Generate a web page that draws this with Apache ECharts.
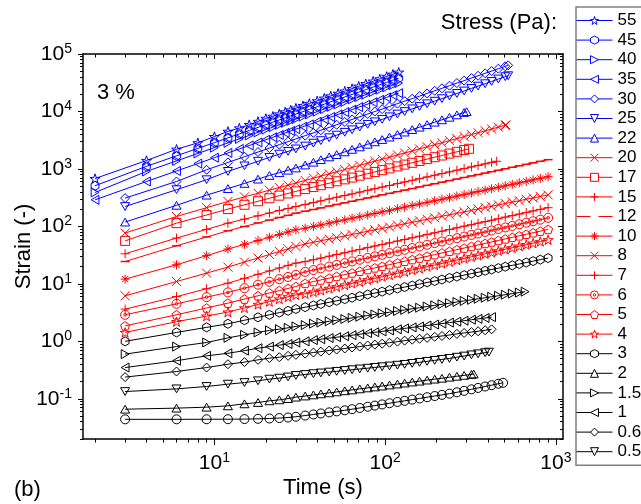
<!DOCTYPE html>
<html><head><meta charset="utf-8">
<script src="https://cdn.jsdelivr.net/npm/echarts@6.0.0/dist/echarts.min.js"></script>
<style>html,body{margin:0;padding:0;background:#fff}#c{width:641px;height:504px}</style>
</head><body><div id="c"></div>
<script>
// time grids (s)
const T2 = [2,4,6,8,10,12,14,16,18,20,22,24,26,28,30,33,36,40,44,48,53,58,64,70,77,85,93,102,111,120];
const G = [3,6,9,12,15,18,21,24,27,30,34,38,42,47,52,58,64,71,79,87,96,106,118,130,144,159,176,195,215,238,263,290,320,350,385,420,460,505,555,610,670,735,810,900];

// strain values (-) per stress (Pa)
const s55 = [680,1400,2200,2850,3650,4500,5150,5900,6700,7550,8240,9020,9810,10600,11400,12600,13800,15300,17000,18600,20600,22600,25000,27500,30300,33600,36900,40700,44400,48100];
const s45 = [510,1110,1690,2280,2870,3470,4070,4680,5290,5900,6520,7130,7750,8380,9000,9940,10900,12100,13400,14700,16300,17900,19800,21700,24000,26600,29200,32100,35100,38000];
const s40 = [390,906,1380,1860,2350,2840,3330,3830,4330,4830,5330,5840,6350,6860,7370,8140,8910,9930,11000,12000,13300,14600,16200,17800,19600,21800,23900,26300,28700,31100];
const s35 = [290,605,922,1240,1570,1900,2230,2560,2890,3220,3560,3900,4240,4580,4920,5430,5950,6630,7330,8020,8890,9760,10800,11900,13100,14500,16000,17600,19200,20800];
const s30 = [311,605,968,1297,1632,1969,2309,2649,2990,3330,3790,4250,4710,5290,5870,6560,7270,8090,9040,9980,11000,12200,13700,15100,16700,18500,20600,22900,25300,28100,31200,34400,38100,41800,46100,50400,55500,61000,63400];
const s25 = [222,435,649,906,1130,1360,1590,1810,2020,2230,2500,2810,3110,3490,3880,4340,4800,5340,5970,6600,7290,8070,9020,9970,11100,12200,13600,15100,16700,18600,20600,22700,25200,27600,30400,33300,36700,40300,41900];
const s22 = [119,233,350,455,560,665,770,860,950,1040,1170,1310,1450,1620,1780,1980,2190,2420,2690,2960,3250,3580,3980,4380,4840,5330,5900,6510,7160,7930,8730,9600,9930];
const s20 = [76.6,149,212,272,326,377,427,475,522,569,630,692,750,822,893,977,1059,1153,1259,1365,1476,1600,1750,1892,2056,2234,2432,2642,2858,3112,3373,3656,3963,4266,4613,4955,5346,5754,5810];
const s17 = [56,114,158,200,238,274,309,343,375,407,446,484,521,565,610,659,708,764,826,887,953,1023,1107,1189,1279,1377,1483,1600,1714,1849,1986,2133,2239];
const s15 = [33.4,62.7,88.9,114,134,153,171,189,205,222,241,260,278,300,321,345,368,395,425,453,483,516,556,593,634,678,726,778,830,889,951,1014,1084,1151,1225,1300,1361];
const s12 = [24.5,46,65.5,84,99.7,115,129,143,156,170,184,197,210,226,241,257,274,293,313,333,354,376,403,428,456,486,518,553,588,627,667,710,756,799,848,896,949,1006,1068,1134,1203,1275,1357,1450];
const s10 = [12.1,21.5,31.0,40.4,48.8,56.8,64.8,72.4,80.0,87.5,93.0,99.8,106,114,122,130,139,148,158,168,179,190,204,217,231,246,262,280,297,317,338,359,382,404,429,453,480,509,540,573,609,645,686,734];
const s8 = [6.2,11,15.4,19.6,24.0,28.2,32.5,36.6,40.6,44.8,49.5,53.0,56.3,60.2,64.0,68.3,72.5,77.1,82.3,87.2,92.4,98.1,105,111,118,125,133,141,150,159,169,179,190,201,213,224,237,250,265,280,297,313,332,354];
const s7 = [3.64,6.0,8.23,10.3,12.5,14.7,16.8,18.9,21.0,23.0,24.4,26.3,28.1,30.3,32.4,34.8,37.1,39.7,42.7,45.5,48.5,51.8,55.6,59.2,63.4,67.6,72.4,77.4,82.5,88.3,94.4,101,107,114,121,128,136,145,154,164,175,186,198,212];
const s6 = [2.9,4.5,5.88,7.1,8.43,9.70,10.9,12.1,13.2,14.4,16.2,17.4,18.6,20.0,21.4,23.0,24.6,26.3,28.3,30.1,32.1,34.3,36.8,39.2,42.0,44.8,47.9,51.3,54.6,58.5,62.5,66.6,71.1,75.4,80.3,85.0,90.3,96.0,102,109,116,123,131,141];
const s5 = [1.86,2.9,3.81,4.63,5.45,6.21,6.95,7.65,8.33,9.0,10.2,11.0,11.7,12.6,13.5,14.5,15.5,16.6,17.8,19.0,20.2,21.6,23.2,24.8,26.5,28.2,30.2,32.3,34.5,36.9,39.4,42.0,44.8,47.6,50.6,53.6,57.0,60.6,64.5,68.6,73.0,77.6,82.8,88.7];
const s4 = [1.43,2.2,2.75,3.23,3.82,4.39,4.93,5.45,5.96,6.45,6.73,7.25,7.74,8.34,8.92,9.58,10.2,10.9,11.8,12.5,13.4,14.3,15.3,16.3,17.5,18.6,20.0,21.3,22.7,24.3,26.0,27.7,29.6,31.4,33.4,35.4,37.6,40.0,42.5,45.3,48.2,51.2,54.6,58.5];
const s3 = [1.0,1.43,1.75,2.02,2.33,2.62,2.90,3.16,3.40,3.65,3.93,4.21,4.47,4.78,5.08,5.42,5.75,6.12,6.53,6.92,7.33,7.78,8.30,8.80,9.35,9.92,10.6,11.2,11.9,12.7,13.4,14.2,15.1,15.9,16.9,17.8,18.8,19.9,21.0,22.2,23.5,24.9,26.4,28.1];
const s2 = [];
const s1_5 = [0.6,0.81,0.955,1.15,1.3,1.43,1.55,1.63,1.72,1.82,1.92,2.03,2.12,2.23,2.33,2.45,2.56,2.68,2.82,2.94,3.07,3.21,3.37,3.52,3.69,3.85,4.04,4.23,4.42,4.62,4.84,5.05,5.28,5.50,5.74,5.97,6.22,6.48,6.77,7.06,7.32];
const s1 = [0.35,0.46,0.56,0.62,0.69,0.76,0.81,0.86,0.90,0.955,1.00,1.05,1.09,1.14,1.18,1.23,1.28,1.33,1.39,1.44,1.49,1.55,1.62,1.68,1.75,1.81,1.89,1.96,2.04,2.12,2.20,2.29,2.38,2.46,2.55,2.64];
const s0_6 = [0.239,0.299,0.35,0.40,0.435,0.477,0.51,0.53,0.56,0.583,0.612,0.639,0.663,0.693,0.721,0.751,0.781,0.812,0.847,0.879,0.912,0.948,0.988,1.03,1.07,1.11,1.15,1.20,1.24,1.29,1.35,1.40,1.45,1.50,1.56,1.62];
const s0_5 = [0.134,0.149,0.164,0.18,0.192,0.206,0.22,0.229,0.24,0.255,0.265,0.274,0.282,0.292,0.301,0.311,0.321,0.331,0.341,0.352,0.362,0.373,0.385,0.398,0.414,0.431,0.449,0.467,0.485,0.505,0.530,0.555,0.582,0.607,0.635,0.65];
const s0_3 = [0.066,0.0689,0.0716,0.0755,0.0818,0.0863,0.0923,0.096,0.101,0.107,0.112,0.117,0.122,0.127,0.132,0.138,0.143,0.149,0.155,0.161,0.167,0.174,0.181,0.188,0.196,0.203,0.212,0.220,0.228,0.238,0.247,0.256,0.266,0.270];
const s0_2 = [0.0440,0.0440,0.0441,0.0442,0.0444,0.0449,0.0455,0.0463,0.0473,0.0488,0.0512,0.0535,0.0556,0.0581,0.0605,0.0631,0.0660,0.0693,0.0729,0.0763,0.0799,0.0838,0.0882,0.0923,0.0969,0.1015,0.1067,0.1119,0.1171,0.1230,0.1299,0.1377,0.1464,0.1547,0.1639,0.1729,0.1830,0.190];

const names = ['55','45','40','35','30','25','22','20','17','15','12','10','8','7','6','5','4','3','2','1.5','1','0.6','0.5','0.3','0.2'];
const values = [s55,s45,s40,s35,s30,s25,s22,s20,s17,s15,s12,s10,s8,s7,s6,s5,s4,s3,s2,s1_5,s1,s0_6,s0_5,s0_3,s0_2];
const endTimes = [120,120,120,120,525,525,300,510,310,450,900,900,900,900,900,900,900,900,900,660,420,420,405,330,490];
const legendNames = ['55','45','40','35','30','25','22','20','17','15','12','10','8','7','6','5','4','3','2','1.5','1','0.6','0.5'];

// axis ticks
const xMajor = [10,100,1000];
const xMinor = [2,3,4,5,6,7,8,9,20,30,40,50,60,70,80,90,200,300,400,500,600,700,800,900];
const yMajor = [0.1,1,10,100,1000,10000,100000];
const yMinor = [0.02,0.03,0.04,0.05,0.06,0.07,0.08,0.09,0.2,0.3,0.4,0.5,0.6,0.7,0.8,0.9,2,3,4,5,6,7,8,9,20,30,40,50,60,70,80,90,200,300,400,500,600,700,800,900,2000,3000,4000,5000,6000,7000,8000,9000,20000,30000,40000,50000,60000,70000,80000,90000];

const BLUE='#0000ff', RED='#ff0000', BLACK='#000000';
const colors = [BLUE,BLUE,BLUE,BLUE,BLUE,BLUE,BLUE,RED,RED,RED,RED,RED,RED,RED,RED,RED,RED,BLACK,BLACK,BLACK,BLACK,BLACK,BLACK,BLACK,BLACK];
const SYM = {
  star:'path://M50,0 L61.2,34.5 L97.6,34.5 L68.2,55.9 L79.4,90.5 L50,69.1 L20.6,90.5 L31.8,55.9 L2.4,34.5 L38.8,34.5 Z',
  hex:'path://M43.3,0 L86.6,25 L86.6,75 L43.3,100 L0,75 L0,25 Z',
  rtri:'path://M0,0 L86.6,50 L0,100 Z',
  ltri:'path://M86.6,0 L0,50 L86.6,100 Z',
  utri:'path://M50,0 L100,86.6 L0,86.6 Z',
  dtri:'path://M0,0 L100,0 L50,86.6 Z',
  diam:'path://M50,0 L100,50 L50,100 L0,50 Z',
  cross:'path://M0,0 L100,100 M100,0 L0,100',
  plus:'path://M50,0 L50,100 M0,50 L100,50',
  dash:'path://M0,42 L100,42 L100,58 L0,58 Z M0,0 L0,0 M100,100 L100,100',
  aster:'path://M50,0 L50,100 M0,50 L100,50 M15,15 L85,85 M85,15 L15,85',
  odot:'path://M0,50 A50,50 0 1 1 100,50 A50,50 0 1 1 0,50 Z M35,50 A15,15 0 1 1 65,50 A15,15 0 1 1 35,50 Z',
  pent:'path://M50,0 L97.6,34.5 L79.4,90.5 L20.6,90.5 L2.4,34.5 Z',
  sq:'path://M0,0 L100,0 L100,100 L0,100 Z',
  circ:'circle'
};
const symbols = ['star','hex','rtri','ltri','diam','dtri','utri','cross','sq','plus','dash','aster','cross','plus','odot','pent','star','hex','utri','rtri','ltri','diam','dtri','utri','circ'];

const FONT = '"Liberation Sans", Arial, Helvetica, sans-serif';

const series = names.map((n, i) => {
  const times = i < 4 ? T2 : G.filter(t => t < endTimes[i]).concat([endTimes[i]]);
  const c = colors[i];
  const isDash = symbols[i] === 'dash';
  return {
    name: n, type: 'line', xAxisIndex: 0, yAxisIndex: 0,
    data: values[i].map((v, k) => [times[k], v]),
    symbol: SYM[symbols[i]], symbolSize: symbols[i]==='star' ? 10 : 9, symbolKeepAspect: true,
    showSymbol: true, color: c,
    lineStyle: {width: 1, color: c},
    itemStyle: isDash ? {color: c, borderWidth: 0} : {color: 'rgba(255,255,255,0)', borderColor: c, borderWidth: 1},
    emphasis: {disabled: true}, silent: true, animation: false, clip: true
  };
});

function supFmt(v) { const e = Math.round(Math.log10(v)); return '{a|10}{b|' + e + '}'; }
const rich = {
  a: {fontSize: 21, fontFamily: FONT, color: '#000', lineHeight: 24},
  b: {fontSize: 14, fontFamily: FONT, color: '#000', verticalAlign: 'top', lineHeight: 14}
};
const lineBlack = {color: '#000', width: 1.5};
function xAx(pos, major, lab) {
  return {
    type: 'log', logBase: 10, min: 1.7, max: 1100, position: pos, gridIndex: 0,
    axisLine: {show: major, onZero: false, lineStyle: lineBlack},
    axisTick: {show: true, inside: pos === 'top', length: major ? (pos==='top'?5:6) : 3.5, lineStyle: {color: '#000', width: 1}, customValues: major ? xMajor : xMinor},
    axisLabel: lab ? {show: true, customValues: xMajor, formatter: supFmt, margin: 12, fontSize: 21, color: '#000', fontFamily: FONT, rich: rich} : {show: false},
    splitLine: {show: false}, minorTick: {show: false}, minorSplitLine: {show: false},
    name: lab ? 'Time (s)' : '', nameLocation: 'middle', nameGap: 38, nameMoveOverlap: false,
    nameTextStyle: {fontSize: 22, color: '#000', fontFamily: FONT}
  };
}
function yAx(pos, major, lab) {
  return {
    type: 'log', logBase: 10, min: 0.02, max: 100000, position: pos, gridIndex: 0,
    axisLine: {show: major, onZero: false, lineStyle: lineBlack},
    axisTick: {show: true, inside: pos === 'right', length: major ? 5 : 3, lineStyle: {color: '#000', width: 1}, customValues: major ? yMajor : yMinor},
    axisLabel: lab ? {show: true, customValues: yMajor, formatter: supFmt, margin: 11, fontSize: 21, color: '#000', fontFamily: FONT, rich: rich} : {show: false},
    splitLine: {show: false}, minorTick: {show: false}, minorSplitLine: {show: false},
    name: lab ? 'Strain (-)' : '', nameLocation: 'middle', nameGap: 48, nameMoveOverlap: false,
    nameTextStyle: {fontSize: 22, color: '#000', fontFamily: FONT}
  };
}

const chart = echarts.init(document.getElementById('c'), null, {renderer: 'canvas'});
chart.setOption({
  animation: false,
  backgroundColor: '#fff',
  textStyle: {fontFamily: FONT},
  grid: {left: 83, top: 54, right: 78, bottom: 65, outerBoundsMode: 'none', containLabel: false},
  xAxis: [xAx('bottom', true, true), xAx('bottom', false, false), xAx('top', true, false), xAx('top', false, false)],
  yAxis: [yAx('left', true, true), yAx('left', false, false), yAx('right', true, false), yAx('right', false, false)],
  legend: {
    data: legendNames, orient: 'vertical', left: 576, top: 7, padding: [5, 10, 5, 0],
    itemWidth: 36, itemHeight: 10, itemGap: 2.6, selectedMode: false,
    itemStyle: {color: '#ffffff', borderWidth: 1},
    lineStyle: {width: 1},
    textStyle: {fontSize: 17, fontFamily: FONT, color: '#000'},
    borderColor: '#808080', borderWidth: 1.5, backgroundColor: '#fff'
  },
  graphic: [
    {type: 'text', x: 97, y: 93, style: {text: '3 %', font: '22px ' + FONT, fill: '#000', verticalAlign: 'middle'}},
    {type: 'text', x: 14, y: 490, style: {text: '(b)', font: '22px ' + FONT, fill: '#000', verticalAlign: 'middle'}},
    {type: 'text', x: 557, y: 23, style: {text: 'Stress (Pa):', font: '22px ' + FONT, fill: '#000', align: 'right', verticalAlign: 'middle'}}
  ],
  series: series
});
</script></body></html>
